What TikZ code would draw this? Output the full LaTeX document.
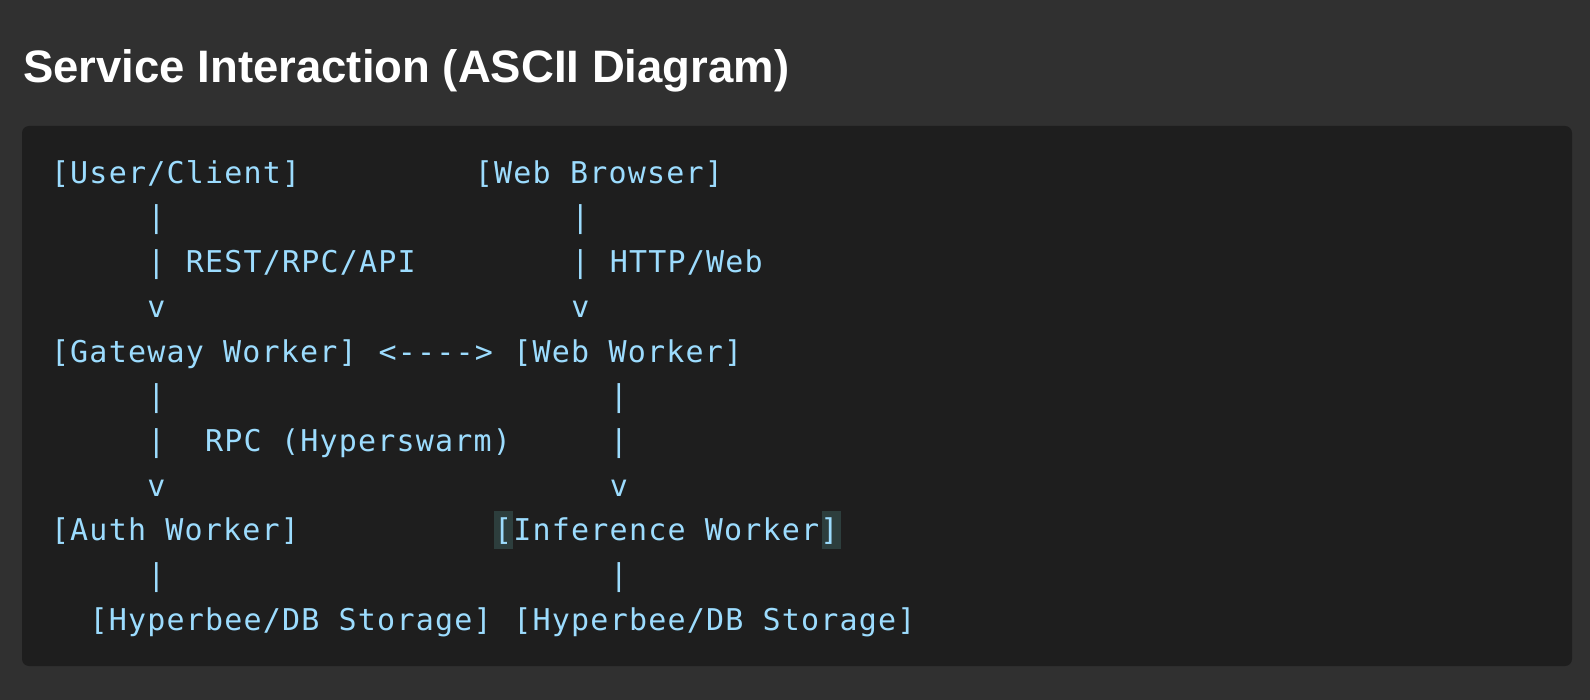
\documentclass[tikz,border=0pt]{standalone}
\usepackage{fontspec}
\setmonofont{DejaVu Sans Mono}[LetterSpace=4.0]
\newfontfamily\titlefont{Liberation Sans}
\definecolor{outerbg}{HTML}{303030}
\definecolor{blockbg}{HTML}{1E1E1E}
\definecolor{codefg}{HTML}{9CDCFE}
\definecolor{matchbg}{HTML}{2D3E3D}
\tikzset{
  code/.style={anchor=base west, inner sep=0pt, outer sep=0pt, text=codefg, font=\ttfamily\fontsize{30}{30}\selectfont},
  titletext/.style={anchor=base west, inner sep=0pt, text=white, font=\titlefont\bfseries\fontsize{45.5}{45.5}\selectfont},
}
\begin{document}
\begin{tikzpicture}[x=1pt,y=-1pt]
\useasboundingbox (0,0) rectangle (1590,700);
\fill[outerbg] (0,0) rectangle (1590,700);
\fill[blockbg, rounded corners=7pt] (22,126) rectangle (1572,666);
\node[titletext] (title) at (23,83) {Service Interaction (ASCII Diagram)};
% bracket match highlights
\fill[matchbg] ({51+23*19.27},511) rectangle ({51+24*19.27},549);
\fill[matchbg] ({51+40*19.27},511) rectangle ({51+41*19.27},549);
% row 1
\node[code] (uc) at ({51+0*19.27},{183.3+0*44.7}) {[User/Client]};
\node[code] (wb) at ({51+22*19.27},{183.3+0*44.7}) {[Web Browser]};
% row 2
\node[code] (p1) at ({51+5*19.27},{183.3+1*44.7}) {|};
\node[code] (p2) at ({51+27*19.27},{183.3+1*44.7}) {|};
% row 3
\node[code] (p3) at ({51+5*19.27},{183.3+2*44.7}) {|};
\node[code] (l1) at ({51+7*19.27},{183.3+2*44.7}) {REST/RPC/API};
\node[code] (p4) at ({51+27*19.27},{183.3+2*44.7}) {|};
\node[code] (l2) at ({51+29*19.27},{183.3+2*44.7}) {HTTP/Web};
% row 4
\node[code] (v1) at ({51+5*19.27},{183.3+3*44.7}) {v};
\node[code] (v2) at ({51+27*19.27},{183.3+3*44.7}) {v};
% row 5
\node[code] (gw) at ({51+0*19.27},{183.3+4*44.7}) {[Gateway Worker]};
\node[code] (ar) at ({51+17*19.27},{183.3+4*44.7}) {<-{}-{}-{}->};
\node[code] (ww) at ({51+24*19.27},{183.3+4*44.7}) {[Web Worker]};
% row 6
\node[code] (p5) at ({51+5*19.27},{183.3+5*44.7}) {|};
\node[code] (p6) at ({51+29*19.27},{183.3+5*44.7}) {|};
% row 7
\node[code] (p7) at ({51+5*19.27},{183.3+6*44.7}) {|};
\node[code] (l3) at ({51+8*19.27},{183.3+6*44.7}) {RPC (Hyperswarm)};
\node[code] (p8) at ({51+29*19.27},{183.3+6*44.7}) {|};
% row 8
\node[code] (v3) at ({51+5*19.27},{183.3+7*44.7}) {v};
\node[code] (v4) at ({51+29*19.27},{183.3+7*44.7}) {v};
% row 9
\node[code] (aw) at ({51+0*19.27},{183.3+8*44.7}) {[Auth Worker]};
\node[code] (iw) at ({51+23*19.27},{183.3+8*44.7}) {[Inference Worker]};
% row 10
\node[code] (p9) at ({51+5*19.27},{183.3+9*44.7}) {|};
\node[code] (p10) at ({51+29*19.27},{183.3+9*44.7}) {|};
% row 11
\node[code] (s1) at ({51+2*19.27},{183.3+10*44.7}) {[Hyperbee/DB Storage]};
\node[code] (s2) at ({51+24*19.27},{183.3+10*44.7}) {[Hyperbee/DB Storage]};
\end{tikzpicture}
\end{document}
